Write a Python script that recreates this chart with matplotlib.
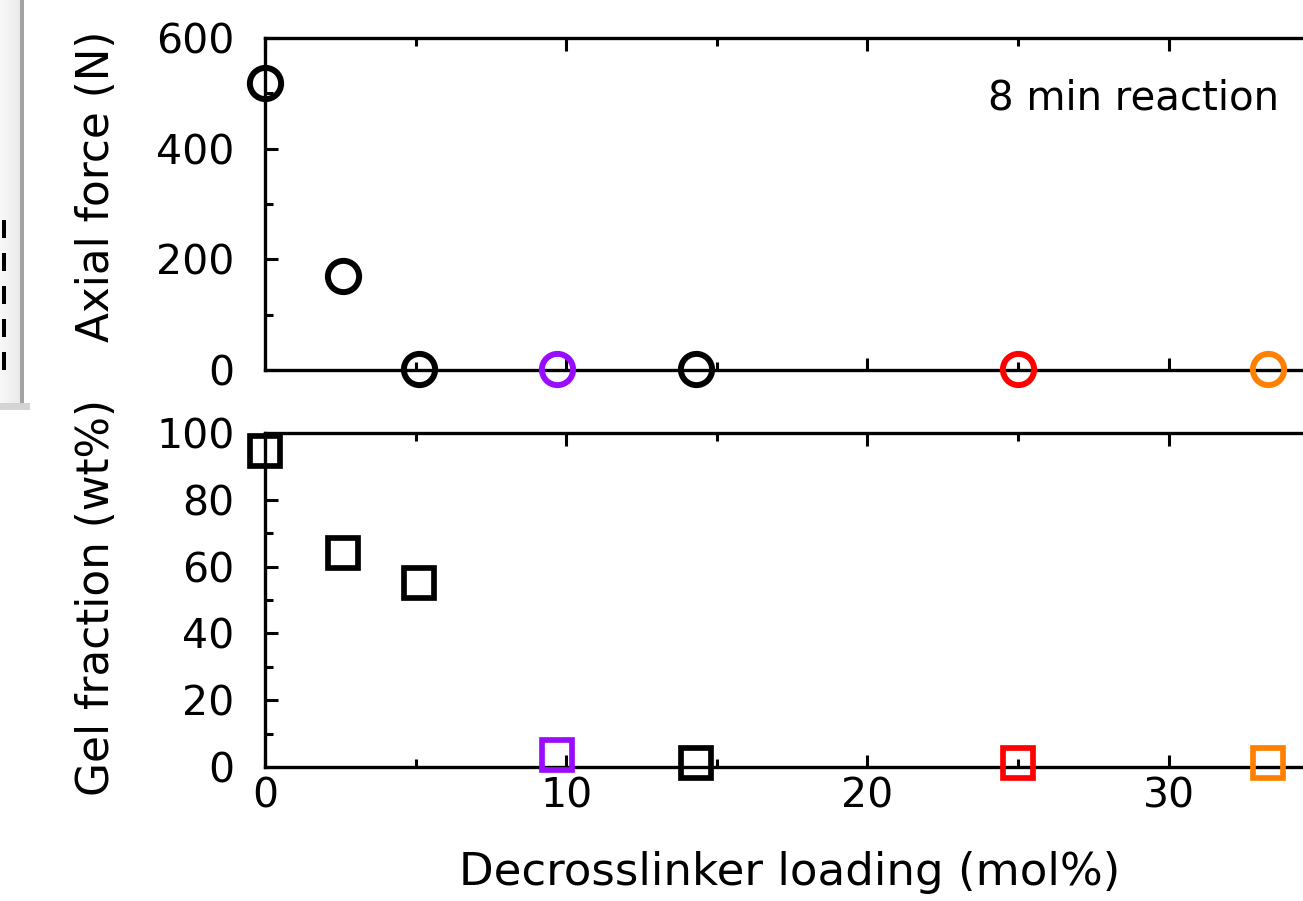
import matplotlib
matplotlib.use("Agg")
import matplotlib.pyplot as plt
from matplotlib.patches import Rectangle
from matplotlib.ticker import MultipleLocator

# ---- data ----
loading = [0, 2.6, 5.1, 9.7, 14.3, 25.0, 33.3]
axial_force = [518, 169, 1, 1, 1, 1, 1]
gel_fraction = [94.5, 64.2, 55.2, 3.6, 1.1, 1.3, 1.1]
point_colors = ["black", "black", "black", "#9a0cff", "black", "#ff0000", "#ff8000"]

x_label = "Decrosslinker loading (mol%)"
y_label_top = "Axial force (N)"
y_label_bot = "Gel fraction (wt%)"
annot = "8 min reaction"

W, H = 1303, 901
fig = plt.figure(figsize=(W / 100, H / 100), dpi=100)
plt.rcParams['font.family'] = ['DejaVu Sans']

def px_rect(left, top, right, bottom):
    return [left / W, (H - bottom) / H, (right - left) / W, (bottom - top) / H]

x_right_px = 265 + 35 * 30.12
ax1 = fig.add_axes(px_rect(265, 38, x_right_px, 370))
ax2 = fig.add_axes(px_rect(265, 433, x_right_px, 767))

for ax in (ax1, ax2):
    ax.set_xlim(0, 35)
    for s in ax.spines.values():
        s.set_linewidth(2.4)
    ax.xaxis.set_major_locator(MultipleLocator(10))
    ax.xaxis.set_minor_locator(MultipleLocator(5))
    ax.tick_params(which='both', direction='in', top=True, right=True,
                   width=2.2, labelsize=29.5, pad=22)
    ax.tick_params(which='major', length=9)
    ax.tick_params(which='minor', length=6)

ax1.set_ylim(0, 600)
ax1.yaxis.set_major_locator(MultipleLocator(200))
ax1.yaxis.set_minor_locator(MultipleLocator(100))
ax1.tick_params(labelbottom=False)

ax2.set_ylim(0, 100)
ax2.yaxis.set_major_locator(MultipleLocator(20))
ax2.yaxis.set_minor_locator(MultipleLocator(10))
ax2.tick_params(axis='x', pad=7)

for x, y, c in zip(loading, axial_force, point_colors):
    ax1.plot([x], [y], linestyle='none', marker='o', markersize=22.5,
             markerfacecolor='none', markeredgecolor=c, markeredgewidth=4.3,
             clip_on=False, zorder=5)
for x, y, c in zip(loading, gel_fraction, point_colors):
    ax2.plot([x], [y], linestyle='none', marker='s', markersize=21,
             markerfacecolor='none', markeredgecolor=c, markeredgewidth=4.1,
             clip_on=False, zorder=5)

ax1.text(24.0, 470, annot, fontsize=29, ha='left', va='baseline')

fig.text(97 / W, 1 - 186 / H, y_label_top, rotation=90, fontsize=31.5,
         ha='center', va='center')
fig.text(97 / W, 1 - 597 / H, y_label_bot, rotation=90, fontsize=31.5,
         ha='center', va='center')
fig.text(790 / W, 1 - 873 / H, x_label, fontsize=32.5, ha='center', va='center')

# ---- cropped neighbour-panel decoration on the left ----
for i in range(20):
    shade = 0.97 - 0.05 * (i / 19)
    fig.add_artist(Rectangle((i / W, (H - 403) / H), 1 / W, 403 / H,
                             transform=fig.transFigure, facecolor=(shade, shade, shade),
                             edgecolor='none'))
fig.add_artist(Rectangle((20 / W, (H - 403) / H), 4 / W, 403 / H,
                         transform=fig.transFigure, facecolor='#a3a3a3', edgecolor='none'))
fig.add_artist(Rectangle((0, (H - 410) / H), 30 / W, 7 / H,
                         transform=fig.transFigure, facecolor='#d4d4d4', edgecolor='none'))
for k in range(5):
    y0 = 220 + 33 * k
    fig.add_artist(Rectangle((2 / W, (H - y0 - 18) / H), 4 / W, 18 / H,
                             transform=fig.transFigure, facecolor='black',
                             edgecolor='none'))

fig.savefig("out.png", dpi=100)
